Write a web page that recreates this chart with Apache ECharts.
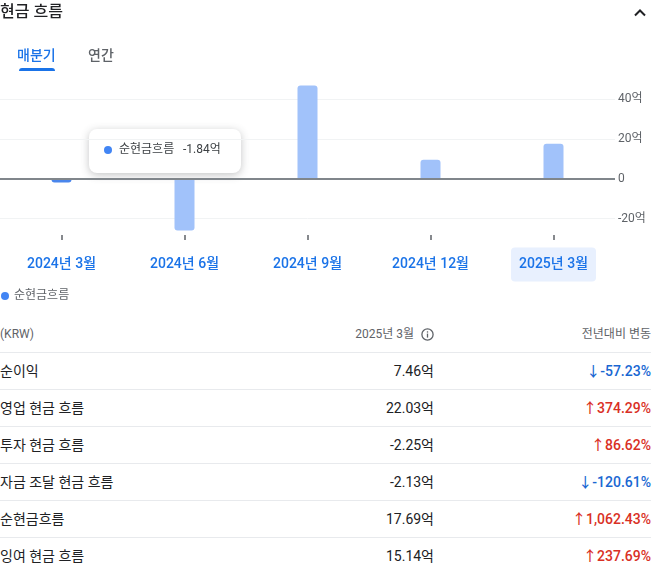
<!DOCTYPE html>
<html>
<head>
<meta charset="utf-8">
<script src="https://cdn.jsdelivr.net/npm/echarts@6/dist/echarts.min.js"></script>
<style>
  html, body { margin: 0; padding: 0; background: #fff; }
  body { width: 657px; height: 586px; position: relative; overflow: hidden;
         font-family: Roboto, "Noto Sans CJK KR", sans-serif; color: #202124; }
  #chart { position: absolute; left: 0; top: 0; width: 657px; height: 310px; }
  .abs { position: absolute; white-space: nowrap; }
  #title { left: 0; top: 0; font-size: 16px; line-height: 24px; font-weight: 500; }
  #caret { left: 632px; top: 5px; }
  .tab { top: 45px; font-size: 14px; line-height: 20px; font-weight: 500; }
  #tab1 { left: 17px; color: #1a73e8; }
  #tab2 { left: 88px; color: #5f6368; }
  #tabline { left: 19px; top: 68px; width: 36px; height: 3px; background: #1a73e8; border-radius: 3px 3px 0 0; }
  #table { position: absolute; left: 0; top: 317px; width: 651px; }
  .row { position: relative; height: 36px; line-height: 36px; border-top: 1px solid #e8eaed; font-size: 14px; }
  .row.head { height: 35px; line-height: 35px; border-top: none; font-size: 12px; color: #5f6368; }
  .c1 { position: absolute; left: 0; }
  .c2 { position: absolute; right: 217px; font-weight: 400; }
  .c3 { position: absolute; right: 0; font-weight: 500; }
  .head .c2 { right: 237px; font-weight: 400; }
  .head .c3 { font-weight: 400; }
  .info { position: absolute; left: 421px; top: 11px; }
  .up { color: #d93025; }
  .down { color: #1967d2; }
</style>
</head>
<body>
<div id="chart"></div>
<div id="title" class="abs">현금 흐름</div>
<svg id="caret" class="abs" width="16" height="16" viewBox="0 0 16 16"><path d="M3 10.5 L8 5.5 L13 10.5" fill="none" stroke="#202124" stroke-width="2"/></svg>
<div id="tab1" class="abs tab">매분기</div>
<div id="tab2" class="abs tab">연간</div>
<div id="tabline" class="abs"></div>
<div id="table"></div>
<script>
// ---- chart data ----
const periods = ['2024년 3월', '2024년 6월', '2024년 9월', '2024년 12월', '2025년 3월'];
const netCashFlow = [-1.84, -25.9, 46.9, 9.6, 17.69];
const seriesName = '순현금흐름';
const yMin = -20;
const yMax = 40;
const yStep = 20;
const hoveredIndex = 0;
const selectedPeriod = '2025년 3월';

// ---- table data ----
const tableHeader = ['(KRW)', '2025년 3월', '전년대비 변동'];
const rowLabels = ['순이익', '영업 현금 흐름', '투자 현금 흐름', '자금 조달 현금 흐름', '순현금흐름', '잉여 현금 흐름'];
const rowValues = [7.46, 22.03, -2.25, -2.13, 17.69, 15.14];
const rowChanges = [-57.23, 374.29, 86.62, -120.61, 1062.43, 237.69];

// ---- table ----
(function buildTable() {
  const t = document.getElementById('table');
  let html = '<div class="row head"><span class="c1">' + tableHeader[0] + '</span>' +
    '<span class="c2">' + tableHeader[1] + '</span>' +
    '<svg class="info" width="13" height="13" viewBox="0 0 13 13"><circle cx="6.5" cy="6.5" r="5.6" fill="none" stroke="#5f6368" stroke-width="1.3"/><rect x="5.85" y="5.6" width="1.3" height="4" fill="#5f6368"/><rect x="5.85" y="3.3" width="1.3" height="1.3" fill="#5f6368"/></svg>' +
    '<span class="c3">' + tableHeader[2] + '</span></div>';
  rowLabels.forEach(function (lab, i) {
    const ch = rowChanges[i];
    const up = ch >= 0;
    const txt = (up ? '↑' : '↓') + ch.toLocaleString('en-US', {minimumFractionDigits: 2, maximumFractionDigits: 2}) + '%';
    html += '<div class="row"><span class="c1">' + lab + '</span>' +
      '<span class="c2">' + rowValues[i].toFixed(2) + '억</span>' +
      '<span class="c3 ' + (up ? 'up' : 'down') + '">' + txt + '</span></div>';
  });
  t.innerHTML = html;
})();

// ---- chart ----
const FONT = 'Roboto, "Noto Sans CJK KR", sans-serif';
const chart = echarts.init(document.getElementById('chart'), null, {renderer: 'canvas'});
const barData = netCashFlow.map(function (v, i) {
  return {
    value: v,
    itemStyle: {
      color: i === hoveredIndex ? '#4a86ec' : '#a1c2fa',
      borderRadius: v >= 0 ? [3, 3, 0, 0] : [0, 0, 3, 3]
    }
  };
});
const tipValue = netCashFlow[hoveredIndex].toFixed(2) + '억';

chart.setOption({
  animation: false,
  textStyle: {fontFamily: FONT},
  grid: {left: 0, right: 42, top: 99.3, bottom: 91.3, containLabel: false},
  legend: {
    left: 1, top: 290, padding: 0, icon: 'circle', itemWidth: 8, itemHeight: 8, itemGap: 10,
    textStyle: {fontSize: 12, color: '#5f6368', fontFamily: FONT},
    data: [{name: seriesName, itemStyle: {color: '#4285f4'}}],
    selectedMode: false
  },
  xAxis: {
    type: 'category',
    data: periods,
    position: 'bottom',
    offset: 16.3,
    axisLine: {show: false, onZero: false},
    axisTick: {show: true, alignWithLabel: true, length: 5, lineStyle: {color: '#5f6368', width: 1.5}},
    axisLabel: {
      margin: 22,
      interval: 0,
      formatter: function (v) { return (v === selectedPeriod ? '{hl|' : '{n|') + v + '}'; },
      rich: {
        n: {fontSize: 14, fontWeight: 500, color: '#1a73e8', fontFamily: FONT, padding: [10, 8, 10, 8], lineHeight: 15},
        hl: {fontSize: 14, fontWeight: 500, color: '#1a73e8', fontFamily: FONT, padding: [10, 8, 10, 8], lineHeight: 15,
             backgroundColor: '#e8f0fe', borderRadius: 4}
      }
    },
    splitLine: {show: false}
  },
  yAxis: {
    type: 'value',
    position: 'right',
    min: yMin, max: yMax, interval: yStep,
    axisLine: {show: false},
    axisTick: {show: false},
    axisLabel: {
      margin: 3, fontSize: 12, color: '#5f6368', fontFamily: FONT,
      formatter: function (v) { return v === 0 ? '0' : v + '억'; }
    },
    splitLine: {show: true, lineStyle: {color: '#f1f3f4', width: 1}}
  },
  series: [{
    name: seriesName,
    type: 'bar',
    barWidth: 20,
    clip: false,
    itemStyle: {color: '#4285f4'},
    data: barData,
    markLine: {
      silent: true,
      symbol: 'none',
      label: {show: false},
      lineStyle: {color: '#80868b', width: 2, type: 'solid'},
      data: [{yAxis: 0}]
    }
  }],
  graphic: [{
    type: 'group', left: 89, top: 129, z: 100,
    children: [
      {type: 'rect', shape: {x: 0, y: 0, width: 152, height: 44, r: 8},
       style: {fill: '#fff', shadowBlur: 8, shadowOffsetY: 2, shadowColor: 'rgba(60,64,67,0.3)'}},
      {type: 'circle', shape: {cx: 19, cy: 21, r: 4}, style: {fill: '#4285f4'}},
      {type: 'text', x: 30, y: 21, style: {text: seriesName, font: '12px ' + FONT, fill: '#3c4043', verticalAlign: 'middle'}},
      {type: 'text', x: 94, y: 21, style: {text: tipValue, font: '12px ' + FONT, fill: '#3c4043', verticalAlign: 'middle'}}
    ]
  }]
});
</script>
</body>
</html>
